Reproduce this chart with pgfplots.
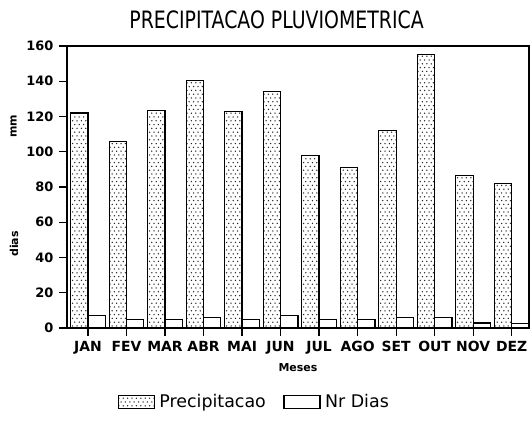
\documentclass[border=0pt]{standalone}
\usepackage{pgfplots}
\pgfplotsset{compat=1.18}
\usepackage{fontspec}
\setmainfont{DejaVu Sans}
\usetikzlibrary{patterns}
\pgfdeclarepatternformonly{mydots}{\pgfqpoint{-1bp}{-1bp}}{\pgfqpoint{5.5bp}{8bp}}{\pgfqpoint{4.4bp}{7.6bp}}{%
  \pgfpathcircle{\pgfqpoint{0bp}{0bp}}{0.75bp}%
  \pgfpathcircle{\pgfqpoint{2.2bp}{3.8bp}}{0.75bp}%
  \pgfusepath{fill}}
\pgfplotsset{boxlegend/.style={legend image code/.code={\draw[##1] (0bp,-6.5bp) rectangle (36bp,6.5bp);}}}
\begin{document}
\begin{tikzpicture}
\begin{axis}[
  scale only axis,
  width=462bp, height=282bp,
  xmin=0.455, xmax=12.45,
  ymin=0, ymax=160,
  clip=false,
  xtick={1,...,12},
  xticklabels={JAN,FEV,MAR,ABR,MAI,JUN,JUL,AGO,SET,OUT,NOV,DEZ},
  ytick={0,20,...,160},
  tick pos=left,
  tick align=outside,
  major tick length=8bp,
  axis line style={line width=1.3bp},
  major tick style={line width=1.2bp, black},
  /pgf/number format/assume math mode=true,
  yticklabel style={font=\fontsize{13}{15}\selectfont\bfseries, xshift=-2bp},
  xticklabel style={font=\fontsize{14}{16}\selectfont\bfseries, yshift=-2bp},
  title={\scalebox{0.79}[1]{\fontsize{24}{28}\selectfont PRECIPITACAO PLUVIOMETRICA}},
  title style={at={(axis description cs:0.4536,1)}, anchor=base, yshift=12bp, inner sep=0pt},
  xlabel={Meses},
  xlabel style={at={(axis description cs:0.5,0)}, anchor=base, yshift=-43bp, inner sep=0pt, font=\fontsize{11}{13}\selectfont\bfseries},
  legend columns=2,
  legend style={draw=none, at={(axis description cs:0.408,-0.262)}, anchor=center,
    font=\fontsize{17.5}{19}\selectfont, inner sep=0pt,
    nodes={inner xsep=4.5bp},
    /tikz/every even column/.append style={column sep=13bp}},
]
\addplot[ybar, bar width=0.45, bar shift=-0.225, draw=black, line width=1.2bp,
  pattern=mydots, pattern color=black!85, boxlegend]
  coordinates {(1,122) (2,106) (3,123.5) (4,140.5) (5,123) (6,134) (7,98) (8,91) (9,112) (10,155) (11,86.5) (12,82)};
\addlegendentry{Precipitacao}
\addplot[ybar, bar width=0.45, bar shift=0.225, draw=black, line width=1.2bp, fill=white, boxlegend]
  coordinates {(1,7) (2,5) (3,5) (4,6) (5,4.6) (6,7) (7,5) (8,5) (9,6) (10,6) (11,2.8) (12,2.7)};
\addlegendentry{Nr Dias}
\node[rotate=90, font=\fontsize{11}{12}\selectfont\bfseries, inner sep=0pt] at (axis description cs:-0.1158,0.716) {mm};
\node[rotate=90, font=\fontsize{11}{12}\selectfont\bfseries, inner sep=0pt] at (axis description cs:-0.1147,0.298) {dias};
\end{axis}
\pgfresetboundingbox
\path (current axis.south west) ++(-67bp,-93bp) rectangle ++(530bp,421bp);
\end{tikzpicture}
\end{document}
